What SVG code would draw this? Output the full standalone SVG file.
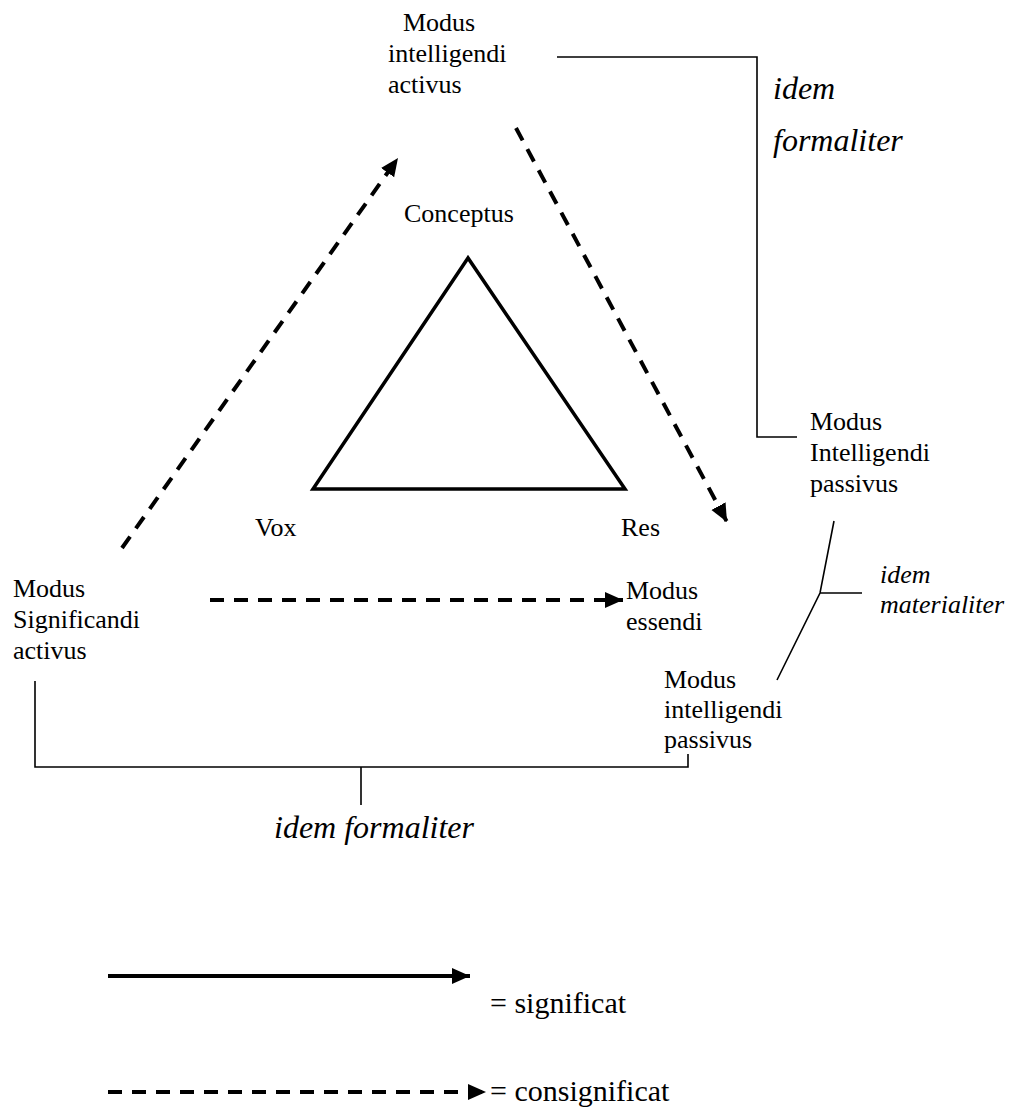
<svg xmlns="http://www.w3.org/2000/svg" width="1016" height="1108" viewBox="0 0 1016 1108">
<style>
.lbl{font-family:"Liberation Serif","Times New Roman",serif;font-size:26px;fill:#000}
.it{font-family:"Liberation Serif","Times New Roman",serif;font-style:italic;fill:#000}
.big{font-size:32px}
.mid{font-size:26px}
.leg{font-family:"Liberation Serif","Times New Roman",serif;font-size:30px;fill:#000}
.dash{fill:none;stroke:#000;stroke-width:4;stroke-dasharray:14 10}
.solid{fill:none;stroke:#000;stroke-width:4}
.thin{fill:none;stroke:#000;stroke-width:1.6}
.tri{fill:none;stroke:#000;stroke-width:3.5;stroke-linejoin:miter}
</style>
<defs>
<marker id="ah" markerUnits="userSpaceOnUse" markerWidth="20" markerHeight="18" refX="18" refY="8" orient="auto">
<path d="M0,0 L18,8 L0,16 Z" fill="#000"/>
</marker>
</defs>
<rect width="1016" height="1108" fill="#fff"/>
<g id="triangle">
<polygon class="tri" points="468,258 313,489 625,489"/>
</g>
<g id="connectors">
<path class="dash" d="M122,548 L398,158" marker-end="url(#ah)"/>
<path class="dash" d="M516,128 L727,522" marker-end="url(#ah)"/>
<path class="dash" d="M210,600 L623,600" marker-end="url(#ah)"/>
<path class="thin" d="M557,57 H757 V437 H797"/>
<path class="thin" d="M834,521 L820,593 L777,680 M820,593 H862"/>
<path class="thin" d="M35,681 V767 H688 V754 M361,767 V805"/>
</g>
<g id="n-activus">
<text class="lbl" x="403" y="31">Modus</text>
<text class="lbl" x="388" y="62">intelligendi</text>
<text class="lbl" x="388" y="93">activus</text>
</g>
<g id="n-conceptus"><text class="lbl" x="404" y="222">Conceptus</text></g>
<g id="n-vox"><text class="lbl" x="255" y="536">Vox</text></g>
<g id="n-res"><text class="lbl" x="621" y="536">Res</text></g>
<g id="n-significandi">
<text class="lbl" x="13" y="597">Modus</text>
<text class="lbl" x="13" y="628">Significandi</text>
<text class="lbl" x="13" y="659">activus</text>
</g>
<g id="n-essendi">
<text class="lbl" x="626" y="599">Modus</text>
<text class="lbl" x="626" y="630">essendi</text>
</g>
<g id="n-intpass1">
<text class="lbl" x="810" y="430">Modus</text>
<text class="lbl" x="810" y="461">Intelligendi</text>
<text class="lbl" x="810" y="492">passivus</text>
</g>
<g id="n-intpass2">
<text class="lbl" x="664" y="688">Modus</text>
<text class="lbl" x="664" y="718">intelligendi</text>
<text class="lbl" x="664" y="748">passivus</text>
</g>
<g id="n-idem-formaliter-top">
<text class="it big" x="773" y="99">idem</text>
<text class="it big" x="773" y="151">formaliter</text>
</g>
<g id="n-idem-materialiter">
<text class="it mid" x="880" y="583">idem</text>
<text class="it mid" x="880" y="613">materialiter</text>
</g>
<g id="n-idem-formaliter-bottom">
<text class="it big" x="274" y="838">idem formaliter</text>
</g>
<g id="legend">
<path class="solid" d="M108,976 L470,976" marker-end="url(#ah)"/>
<path class="dash" d="M108,1092 L486,1092" marker-end="url(#ah)"/>
<text class="leg" x="490" y="1013">= significat</text>
<text class="leg" x="490" y="1101">= consignificat</text>
</g>
</svg>
